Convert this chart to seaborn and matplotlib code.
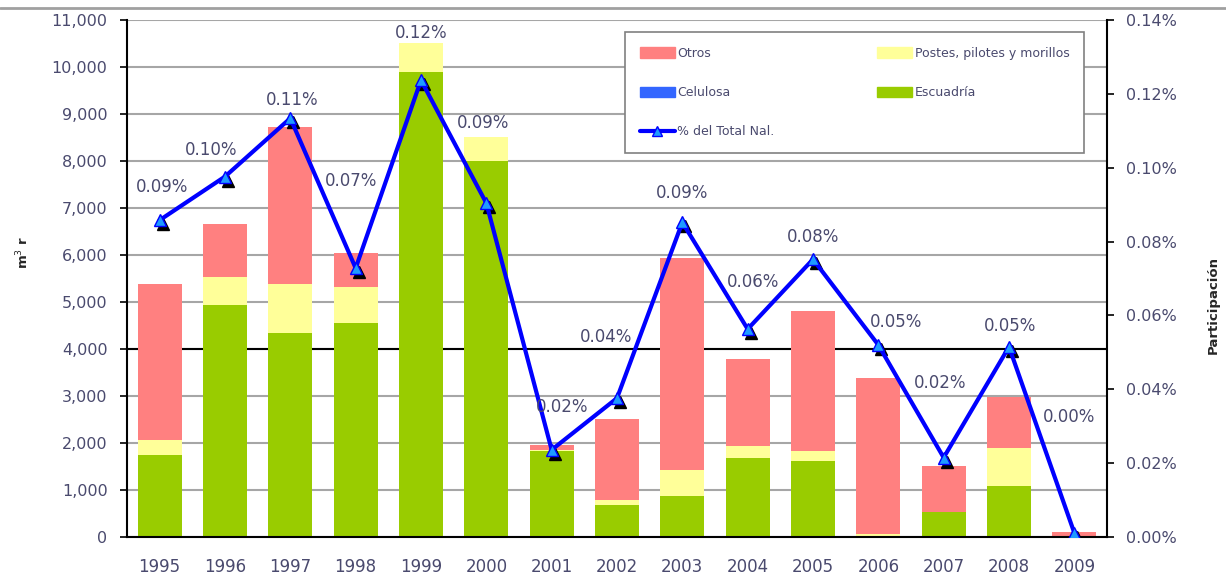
import matplotlib
matplotlib.use("Agg")
import matplotlib.pyplot as plt
import matplotlib.transforms as mtransforms
from matplotlib.patches import Patch
from matplotlib.lines import Line2D
import seaborn as sns
import numpy as np

# === Data ===
years = ["1995", "1996", "1997", "1998", "1999", "2000", "2001", "2002",
         "2003", "2004", "2005", "2006", "2007", "2008", "2009"]
escuadria = [1750, 4940, 4340, 4550, 9900, 8000, 1830, 680, 870, 1680, 1620, 0, 530, 1090, 0]
celulosa = [0, 0, 0, 0, 0, 0, 0, 0, 0, 0, 0, 0, 0, 0, 0]
postes = [310, 590, 1040, 770, 610, 515, 30, 110, 555, 255, 210, 60, 0, 805, 0]
otros = [3320, 1130, 3340, 720, 0, 0, 100, 1720, 4510, 1850, 2980, 3320, 980, 1085, 100]
pct_total = [0.0858, 0.0976, 0.1134, 0.0728, 0.1237, 0.0904, 0.0236, 0.0376,
             0.0852, 0.0563, 0.0752, 0.0520, 0.0215, 0.0515, 0.0011]

# label offsets (pixels) for the % labels
label_offsets = [(2, 33), (-14, 27), (2, 18), (-5, 87), (0, 47), (-3, 80), (10, 43), (-11, 61),
                 (0, 29), (5, 47), (0, 22), (18, 23), (-4, 75), (1, 21), (-5, 116)]

# === Colours ===
c_otros = "#FF8080"
c_postes = "#FFFF99"
c_celulosa = "#3366FF"
c_escuadria = "#99CC00"
c_line = "#0000FF"
c_text = "#4A4A6E"

sns.set_style("white")
plt.rcParams["font.family"] = ["DejaVu Sans"]

fig = plt.figure(figsize=(12.26, 5.77), dpi=100)
ax = fig.add_axes([127 / 1226, 40 / 577, 980 / 1226, 517 / 577])

# stacked bars drawn as overlapping cumulative totals
esc = np.array(escuadria)
cel = esc + np.array(celulosa)
pos = cel + np.array(postes)
tot = pos + np.array(otros)
for vals, col in [(tot, c_otros), (pos, c_postes), (cel, c_celulosa), (esc, c_escuadria)]:
    sns.barplot(x=years, y=vals, color=col, width=0.67, linewidth=0,
                saturation=1, ax=ax, zorder=2)

ax.set_ylim(0, 11000)
ax.set_xlim(-0.5, 14.5)
ax.set_yticks(range(0, 11001, 1000))
ax.set_yticklabels([f"{v:,}" for v in range(0, 11001, 1000)])
ax.grid(axis="y", color="#A6A6A6", lw=1.5, zorder=0)
ax.axhline(4000, color="black", lw=1.5, zorder=1)
ax.set_axisbelow(True)

ax.set_xticks(range(len(years)))
ax.set_xticklabels(years)
ax.set_xticks(np.arange(-0.5, 15, 1), minor=True)
ax.tick_params(axis="x", which="major", length=0, pad=15, labelsize=12, labelcolor=c_text)
ax.tick_params(axis="x", which="minor", length=6, width=1.2, color="black", direction="out")
ax.tick_params(axis="y", length=5, width=1.2, color="black", direction="out", pad=9,
               labelsize=11.5, labelcolor=c_text, left=True)
ax.set_xlabel("")
ax.set_ylabel("m$^3$ r", fontsize=9.5, fontweight="bold")
ax.yaxis.set_label_coords(-0.098, 0.55)

for side in ["left", "bottom"]:
    ax.spines[side].set_color("black")
    ax.spines[side].set_linewidth(1.5)
ax.spines["top"].set_visible(False)
ax.spines["right"].set_visible(False)

# === Secondary axis: % del Total Nal. ===
ax2 = ax.twinx()
xpos = np.arange(len(years))
shadow = mtransforms.offset_copy(ax2.transData, fig=fig, x=3, y=-4, units="dots")
ax2.plot(xpos, pct_total, linestyle="none", marker="^", markersize=8,
         color="black", transform=shadow, zorder=3)
sns.lineplot(x=xpos, y=pct_total, color=c_line, lw=3, marker="^", markersize=8,
             markerfacecolor="#1E9BFF", markeredgecolor=c_line, markeredgewidth=1,
             ax=ax2, zorder=4)

for xi, v, (dx, dy) in zip(xpos, pct_total, label_offsets):
    ax2.annotate(f"{v:.2f}%", xy=(xi, v), xytext=(dx, dy), textcoords="offset pixels",
                 ha="center", va="center", fontsize=12, color=c_text, zorder=5)

ax2.set_ylim(0, 0.14)
ax2.set_yticks(np.arange(0, 0.141, 0.02))
ax2.set_yticklabels([f"{v:.2f}%" for v in np.arange(0, 0.141, 0.02)])
ax2.tick_params(axis="y", length=5, width=1.2, color="black", direction="out", pad=9,
                labelsize=11.5, labelcolor=c_text, right=True)
ax2.set_ylabel("Participación", fontsize=9.5, fontweight="bold", rotation=90)
ax2.yaxis.set_label_coords(1.102, 0.449)
ax2.spines["right"].set_color("black")
ax2.spines["right"].set_linewidth(1.5)
for side in ["top", "left", "bottom"]:
    ax2.spines[side].set_visible(False)

# === Legend ===
handles = [
    Patch(color=c_otros, label="Otros"),
    Patch(color=c_celulosa, label="Celulosa"),
    Line2D([], [], color=c_line, lw=3, marker="^", markersize=7,
           markerfacecolor="#1E9BFF", markeredgecolor=c_line, label="% del Total Nal."),
    Patch(color=c_postes, label="Postes, pilotes y morillos"),
    Patch(color=c_escuadria, label="Escuadría"),
]
leg = ax2.legend(handles=handles, ncol=2, loc="upper left",
                 bbox_to_anchor=(0.508, 0.977, 0.469, 0.0), mode="expand",
                 fontsize=9, frameon=True, fancybox=False, edgecolor="#808080",
                 framealpha=1, facecolor="white",
                 handlelength=2.8, handleheight=0.9, handletextpad=0.2,
                 labelspacing=2.1, borderpad=1.2, borderaxespad=0)
leg.get_frame().set_linewidth(1.2)
for t in leg.get_texts():
    t.set_color(c_text)

# top border line of the chart area
fig.add_artist(Line2D([0, 1], [1 - 8 / 577, 1 - 8 / 577], transform=fig.transFigure,
                      color="#A0A0A0", lw=2))

fig.savefig("out.png", dpi=100)
